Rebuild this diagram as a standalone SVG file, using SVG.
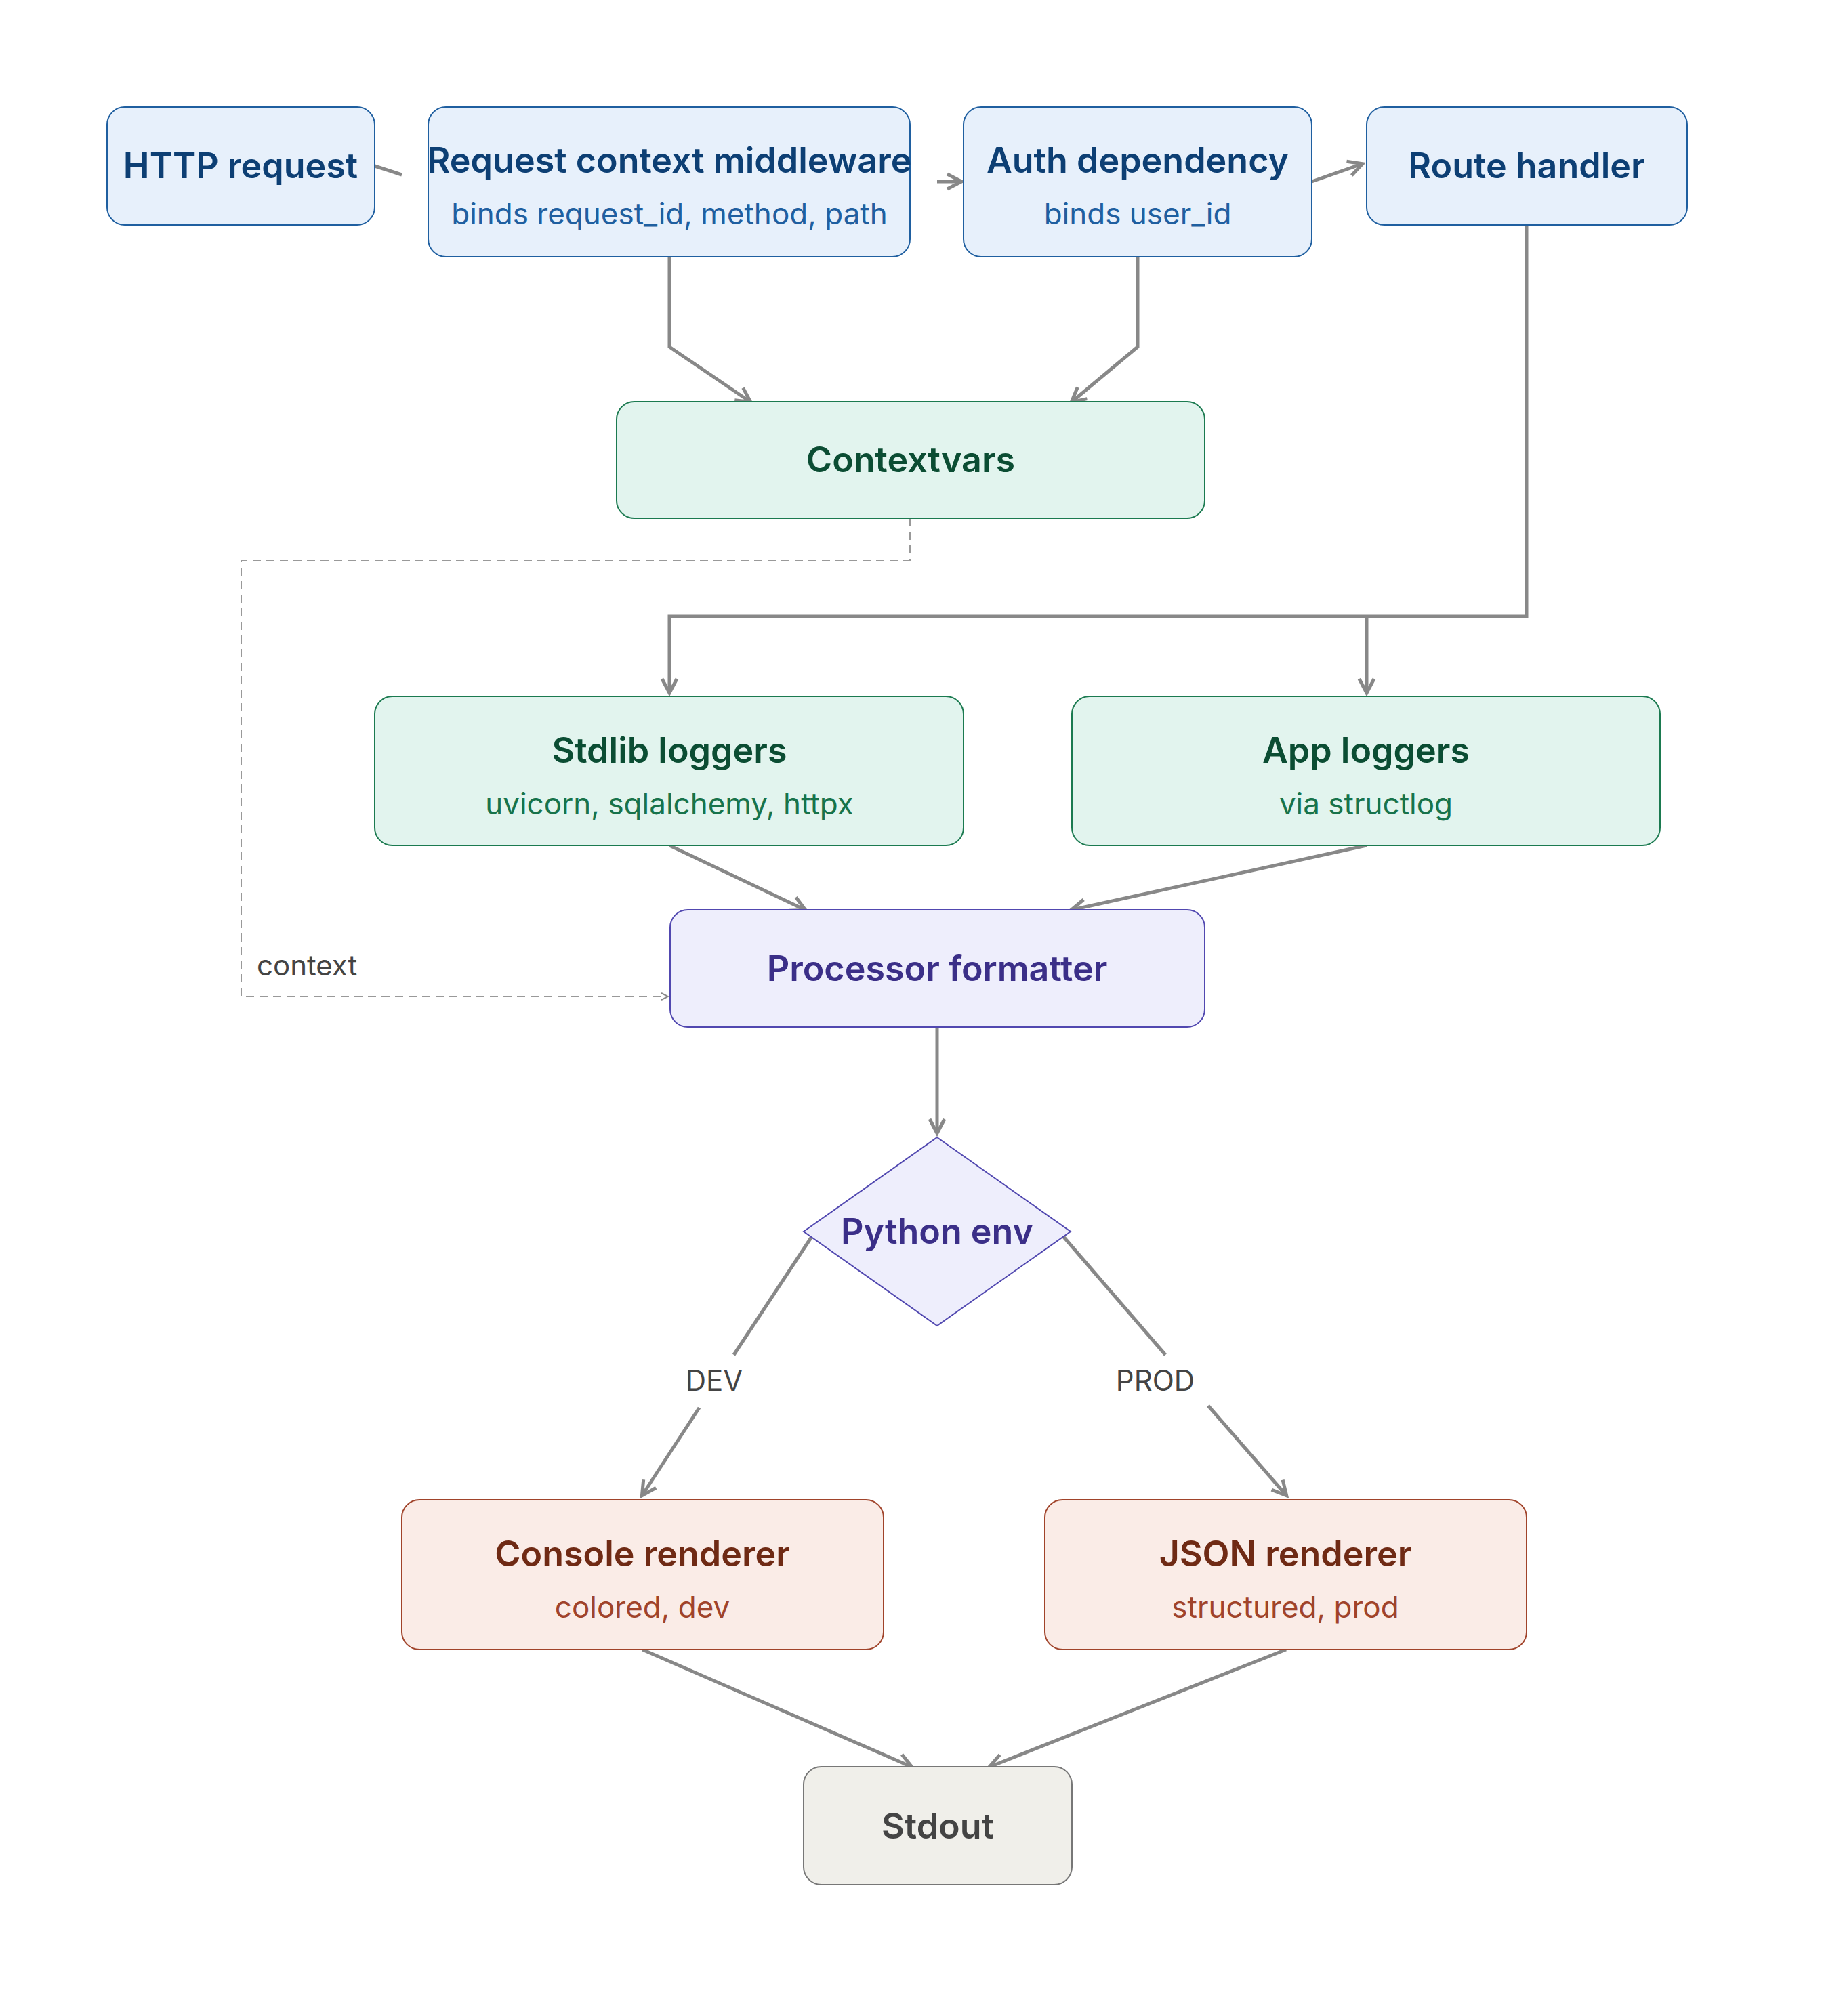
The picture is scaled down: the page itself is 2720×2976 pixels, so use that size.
<svg xmlns="http://www.w3.org/2000/svg" width="2720" height="2976" viewBox="0 0 2720 2976">
<style>
text{font-family:Inter,"Noto Sans","Liberation Sans",sans-serif;text-anchor:middle}
.t{font-size:52px;font-weight:600}
.s{font-size:44px}
.l{font-size:42px;fill:#444}
.b rect{fill:#e7f0fb;stroke:#1f5fa0;stroke-width:2}.b .t{fill:#0d3f74}.b .s{fill:#1f5fa0}
.g rect{fill:#e2f4ee;stroke:#1b7a50;stroke-width:2}.g .t{fill:#0b4d33}.g .s{fill:#17734b}
.p rect,.p polygon{fill:#eeeefc;stroke:#5148b0;stroke-width:2}.p .t{fill:#3b2f88}
.o rect{fill:#faece7;stroke:#a0432a;stroke-width:2}.o .t{fill:#6f2a14}.o .s{fill:#a0432a}
.k rect{fill:#f0efea;stroke:#777;stroke-width:2}.k .t{fill:#444}
.e{fill:none;stroke:#888;stroke-width:5;marker-end:url(#a)}
</style>
<defs><marker id="a" markerWidth="12" markerHeight="12" refX="9" refY="6" orient="auto" markerUnits="userSpaceOnUse" viewBox="0 0 12 12"><path d="M1 1L10 6L1 11" fill="none" stroke="#888" stroke-width="2.5"/></marker>
<marker id="a2" markerWidth="30" markerHeight="30" refX="24" refY="15" orient="auto" markerUnits="userSpaceOnUse"><path d="M4 4L25 15L4 26" fill="none" stroke="#888" stroke-width="5"/></marker>
<marker id="d" markerWidth="14" markerHeight="14" refX="11" refY="7" orient="auto" markerUnits="userSpaceOnUse"><path d="M2 2L12 7L2 12" fill="none" stroke="#888" stroke-width="2"/></marker></defs>
<rect width="2720" height="2976" fill="#fff"/>
<g id="connectors">
<style>.e{marker-end:url(#a2)}</style>
<path d="M553 245L593 258" fill="none" stroke="#888" stroke-width="5"/>
<path class="e" d="M1383 268H1418"/>
<path class="e" d="M1936 268L2010 242"/>
<path class="e" d="M988 379V512L1107 593"/>
<path class="e" d="M1679 379V512L1582 593"/>
<path class="e" d="M2253 332V910H988V1022"/>
<path class="e" d="M2017 910V1022"/>
<path class="e" d="M988 1248L1188 1343"/>
<path class="e" d="M2017 1248L1582 1343"/>
<path d="M1343 765V827H356V1471H985" fill="none" stroke="#999" stroke-width="2" stroke-dasharray="12 8" marker-end="url(#d)"/>
<text class="l" x="379" y="1440" style="text-anchor:start">context</text>
<path class="e" d="M1383 1516V1672"/>
<path d="M1203 1818L1083 2000" fill="none" stroke="#888" stroke-width="5"/>
<path class="e" d="M1032 2078L948 2207"/>
<text class="l" x="1054" y="2053">DEV</text>
<path d="M1563 1818L1720 2000" fill="none" stroke="#888" stroke-width="5"/>
<path class="e" d="M1783 2075L1898 2207"/>
<text class="l" x="1705" y="2053">PROD</text>
<path class="e" d="M948 2435L1345 2608"/>
<path class="e" d="M1898 2435L1461 2608"/>
</g>
<g id="http" class="b"><rect x="158" y="158" width="395" height="174" rx="26"/><text class="t" x="355" y="263">HTTP request</text></g>
<g id="reqctx" class="b"><rect x="632" y="158" width="711" height="221" rx="26"/><text class="t" x="988" y="255">Request context middleware</text><text class="s" x="988" y="331">binds request_id, method, path</text></g>
<g id="auth" class="b"><rect x="1422" y="158" width="514" height="221" rx="26"/><text class="t" x="1679" y="255">Auth dependency</text><text class="s" x="1679" y="331">binds user_id</text></g>
<g id="route" class="b"><rect x="2017" y="158" width="473" height="174" rx="26"/><text class="t" x="2253" y="263">Route handler</text></g>
<g id="ctxvars" class="g"><rect x="910" y="593" width="868" height="172" rx="26"/><text class="t" x="1344" y="697">Contextvars</text></g>
<g id="stdlib" class="g"><rect x="553" y="1028" width="869" height="220" rx="26"/><text class="t" x="988" y="1126">Stdlib loggers</text><text class="s" x="988" y="1202">uvicorn, sqlalchemy, httpx</text></g>
<g id="app" class="g"><rect x="1582" y="1028" width="868" height="220" rx="26"/><text class="t" x="2016" y="1126">App loggers</text><text class="s" x="2016" y="1202">via structlog</text></g>
<g id="proc" class="p"><rect x="989" y="1343" width="789" height="173" rx="26"/><text class="t" x="1383" y="1448">Processor formatter</text></g>
<g id="env" class="p"><polygon points="1383,1679 1580,1818 1383,1957 1186,1818"/><text class="t" x="1383" y="1836">Python env</text></g>
<g id="console" class="o"><rect x="593" y="2214" width="711" height="221" rx="26"/><text class="t" x="948" y="2312">Console renderer</text><text class="s" x="948" y="2388">colored, dev</text></g>
<g id="json" class="o"><rect x="1542" y="2214" width="711" height="221" rx="26"/><text class="t" x="1897" y="2312">JSON renderer</text><text class="s" x="1897" y="2388">structured, prod</text></g>
<g id="stdout" class="k"><rect x="1186" y="2608" width="396" height="174" rx="26"/><text class="t" x="1384" y="2714">Stdout</text></g>
</svg>
